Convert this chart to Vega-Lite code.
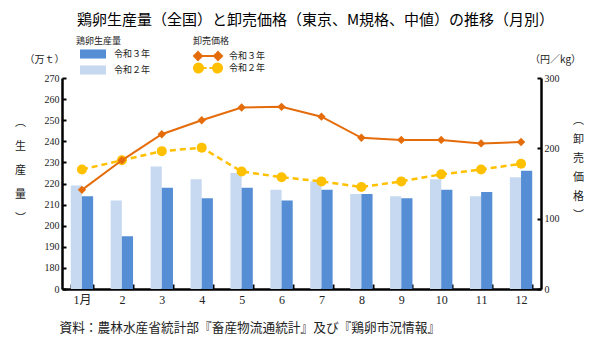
{
  "$schema": "https://vega.github.io/schema/vega-lite/v6.json",
  "width": 479,
  "height": 211,
  "autosize": {"type": "none"},
  "padding": {"left": 62, "top": 78, "right": 59, "bottom": 48},
  "background": "white",
  "title": {
    "text": "鶏卵生産量（全国）と卸売価格（東京、M規格、中値）の推移（月別）",
    "anchor": "middle", "frame": "group", "dx": 14, "offset": 9,
    "fontSize": 15, "font": "Noto Sans CJK JP", "fontWeight": "normal", "color": "#000"
  },
  "config": {
    "view": {"stroke": null},
    "axis": {
      "grid": false,
      "domainColor": "#000", "domainWidth": 2.5,
      "tickColor": "#000", "tickWidth": 2,
      "labelColor": "#222",
      "labelFont": "Liberation Serif, Noto Sans CJK JP",
      "titleFont": "Noto Sans CJK JP", "titleFontWeight": "normal", "titleColor": "#222"
    },
    "legend": {
      "titleFont": "Noto Sans CJK JP", "titleFontWeight": "normal", "titleFontSize": 9, "titleColor": "#222",
      "labelFont": "Noto Sans CJK JP", "labelFontSize": 9, "labelColor": "#222"
    }
  },
  "data": {
    "values": [
      {"m": "1月", "yr": "令和２年", "prod": 219, "price": 170},
      {"m": "2", "yr": "令和２年", "prod": 212, "price": 183},
      {"m": "3", "yr": "令和２年", "prod": 228, "price": 196},
      {"m": "4", "yr": "令和２年", "prod": 222, "price": 201},
      {"m": "5", "yr": "令和２年", "prod": 225, "price": 167},
      {"m": "6", "yr": "令和２年", "prod": 217, "price": 159},
      {"m": "7", "yr": "令和２年", "prod": 221, "price": 153},
      {"m": "8", "yr": "令和２年", "prod": 215, "price": 145},
      {"m": "9", "yr": "令和２年", "prod": 214, "price": 153},
      {"m": "10", "yr": "令和２年", "prod": 222, "price": 163},
      {"m": "11", "yr": "令和２年", "prod": 214, "price": 170},
      {"m": "12", "yr": "令和２年", "prod": 223, "price": 178},
      {"m": "1月", "yr": "令和３年", "prod": 214, "price": 141},
      {"m": "2", "yr": "令和３年", "prod": 195, "price": 183},
      {"m": "3", "yr": "令和３年", "prod": 218, "price": 220},
      {"m": "4", "yr": "令和３年", "prod": 213, "price": 240},
      {"m": "5", "yr": "令和３年", "prod": 218, "price": 258},
      {"m": "6", "yr": "令和３年", "prod": 212, "price": 259},
      {"m": "7", "yr": "令和３年", "prod": 217, "price": 245},
      {"m": "8", "yr": "令和３年", "prod": 215, "price": 215},
      {"m": "9", "yr": "令和３年", "prod": 213, "price": 212},
      {"m": "10", "yr": "令和３年", "prod": 217, "price": 212},
      {"m": "11", "yr": "令和３年", "prod": 216, "price": 207},
      {"m": "12", "yr": "令和３年", "prod": 226, "price": 209}
    ]
  },
  "layer": [
    {
      "mark": {"type": "bar"},
      "encoding": {
        "x": {
          "field": "m", "type": "nominal",
          "scale": {"domain": ["1月","2","3","4","5","6","7","8","9","10","11","12"], "paddingInner": 0.44, "paddingOuter": 0.22},
          "axis": {
            "title": "資料：農林水産省統計部『畜産物流通統計』及び『鶏卵市況情報』",
            "titleAnchor": "start", "titleAlign": "left", "titleX": -3, "titleY": 38, "titleBaseline": "middle",
            "titleFontSize": 12.7,
            "labelAngle": 0, "labelFontSize": 12, "labelPadding": 10,
            "tickBand": "extent", "tickSize": -5
          }
        },
        "xOffset": {"field": "yr", "type": "nominal", "scale": {"domain": ["令和２年","令和３年"], "paddingInner": 0, "paddingOuter": 0}},
        "y": {
          "field": "prod", "type": "quantitative",
          "scale": {"domain": [170, 270], "nice": false, "zero": false},
          "axis": {
            "orient": "left",
            "values": [170,180,190,200,210,220,230,240,250,260,270],
            "labelExpr": "datum.value == 170 ? '0' : datum.label",
            "labelFontSize": 10, "tickSize": -4, "labelPadding": 7,
            "title": "（万ｔ）", "titleAngle": 0, "titleX": -18, "titleY": -19,
            "titleAlign": "center", "titleBaseline": "middle", "titleFontSize": 10
          }
        },
        "y2": {"datum": 170},
        "fill": {
          "field": "yr", "type": "nominal", "sort": "descending",
          "scale": {"range": ["#558ED5","#C6D9F1"]},
          "legend": {
            "orient": "none", "legendX": 14, "legendY": -41,
            "title": "鶏卵生産量", "titlePadding": 0,
            "symbolType": "M-1,-0.35H1V0.35H-1Z", "symbolSize": 676, "symbolStrokeWidth": 0,
            "symbolOffset": 4, "clipHeight": 16,
            "labelOffset": 8, "rowPadding": 0
          }
        }
      }
    },
    {
      "layer": [
        {
          "transform": [{"filter": "datum.yr === '令和２年'"}],
          "mark": {"type": "line", "strokeWidth": 2.5, "strokeDash": [6, 4]},
          "encoding": {
            "x": {"field": "m", "type": "nominal"},
            "y": {
              "field": "price", "type": "quantitative",
              "scale": {"domain": [0, 300], "nice": false},
              "axis": {
                "orient": "right",
                "values": [0,50,100,150,200,250,300],
                "labelFontSize": 10, "tickSize": -4, "labelPadding": 7,
                "title": "（円／kg）", "titleAngle": 0, "titleX": 14, "titleY": -19,
                "titleAlign": "center", "titleBaseline": "middle", "titleFontSize": 10
              }
            },
            "color": {
              "field": "yr", "type": "nominal",
              "scale": {"domain": ["令和３年","令和２年"], "range": ["#E46C0A","#FFC000"]},
              "legend": {
                "orient": "none", "legendX": 131, "legendY": -41,
                "title": "卸売価格", "titlePadding": 4,
                "symbolSize": 196, "symbolStrokeWidth": 2, "symbolOffset": 7,
                "clipHeight": 12,
                "labelOffset": 13, "rowPadding": -3,
                "encode": {
                  "symbols": {
                    "update": {
                      "shape": {"signal": "datum.value === '令和３年' ? 'M-1.43,0H1.43M-2,0L-1.43,-0.57L-0.86,0L-1.43,0.57ZM0.86,0L1.43,-0.57L2,0L1.43,0.57Z' : 'M-2,0A0.64,0.64 0 1,1 -0.72,0A0.64,0.64 0 1,1 -2,0ZM0.72,0A0.64,0.64 0 1,1 2,0A0.64,0.64 0 1,1 0.72,0ZM-0.6,0H-0.2M0.2,0H0.6'"},
                      "fill": {"signal": "datum.value === '令和３年' ? '#E46C0A' : '#FFC000'"},
                      "stroke": {"signal": "datum.value === '令和３年' ? '#E46C0A' : '#FFC000'"},
                      "strokeDash": {"value": [1, 0]},
                      "strokeWidth": {"value": 2},
                      "opacity": {"value": 1}
                    }
                  }
                }
              }
            }
          }
        },
        {
          "transform": [{"filter": "datum.yr === '令和２年'"}],
          "mark": {"type": "point", "filled": true, "opacity": 1, "shape": "circle", "size": 100},
          "encoding": {
            "x": {"field": "m", "type": "nominal"},
            "y": {"field": "price", "type": "quantitative"},
            "color": {"field": "yr", "type": "nominal"}
          }
        },
        {
          "transform": [{"filter": "datum.yr === '令和３年'"}],
          "mark": {"type": "line", "strokeWidth": 2},
          "encoding": {
            "x": {"field": "m", "type": "nominal"},
            "y": {"field": "price", "type": "quantitative"},
            "color": {"field": "yr", "type": "nominal"}
          }
        },
        {
          "transform": [{"filter": "datum.yr === '令和３年'"}],
          "mark": {"type": "point", "filled": true, "opacity": 1, "shape": "diamond", "size": 70},
          "encoding": {
            "x": {"field": "m", "type": "nominal"},
            "y": {"field": "price", "type": "quantitative"},
            "color": {"field": "yr", "type": "nominal"}
          }
        }
      ]
    },
    {
      "mark": {"type": "point", "opacity": 0},
      "encoding": {
        "x": {"field": "m", "type": "nominal"},
        "y": {
          "field": "prod", "type": "quantitative",
          "scale": {"domain": [170, 270], "nice": false, "zero": false},
          "axis": {
            "orient": "left", "domain": false, "ticks": false, "labels": false,
            "title": ["︵","生","産","量","︶"], "titleAngle": 0, "titleX": -42, "titleY": 44,
            "titleAlign": "center", "titleBaseline": "middle", "titleLineHeight": 24, "titleFontSize": 11
          }
        }
      }
    },
    {
      "mark": {"type": "point", "opacity": 0},
      "encoding": {
        "x": {"field": "m", "type": "nominal"},
        "y": {
          "field": "price", "type": "quantitative",
          "scale": {"domain": [0, 300], "nice": false},
          "axis": {
            "orient": "right", "domain": false, "ticks": false, "labels": false,
            "title": ["︵","卸","売","価","格","︶"], "titleAngle": 0, "titleX": 37, "titleY": 42,
            "titleAlign": "center", "titleBaseline": "middle", "titleLineHeight": 19, "titleFontSize": 11
          }
        }
      }
    }
  ],
  "resolve": {"scale": {"y": "independent"}}
}
